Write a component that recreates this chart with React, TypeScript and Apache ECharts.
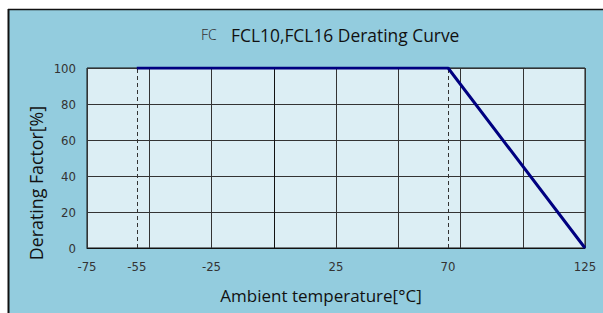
import React, { useEffect, useRef } from "react";
import * as echarts from "echarts";

const curveTemps = [-55, 70, 125];
const curveFactors = [100, 100, 0];
const xTickLabels = [-75, -55, -25, 25, 70, 125];
const dashedTemps = [-55, 70];
const xRange = [-75, 125];
const yRange = [0, 100];

export default function App() {
  const ref = useRef<HTMLDivElement>(null);
  useEffect(() => {
    if (!ref.current) return;
    const chart = echarts.init(ref.current, undefined, { renderer: "svg" });
    const labelFont = "'Liberation Sans Narrow', 'DejaVu Sans Condensed', 'Liberation Sans', sans-serif";
    const textFont = "'Open Sans', 'Noto Sans', sans-serif";
    chart.setOption({
      animation: false,
      backgroundColor: "#ffffff",
      graphic: [
        { type: "rect", z: -10, shape: { x: 8, y: 9, width: 600, height: 310 }, style: { fill: "#93CCDE" } },
        { type: "line", z: -9, shape: { x1: 8, y1: 9.5, x2: 603, y2: 9.5 }, style: { stroke: "#111", lineWidth: 1.5 } },
        { type: "line", z: -9, shape: { x1: 8.5, y1: 9, x2: 8.5, y2: 313 }, style: { stroke: "#111", lineWidth: 2 } },
        { type: "text", x: 201, y: 34, style: { text: "FC", fill: "#333", font: "300 14px 'Noto Sans', sans-serif", verticalAlign: "middle" } },
        { type: "text", x: 231, y: 35, style: { text: "FCL10,FCL16 Derating Curve", fill: "#111", font: `17.4px ${textFont}`, verticalAlign: "middle" } },
        { type: "text", x: 321, y: 295, style: { text: "Ambient temperature[°C]", fill: "#111", font: `17px ${textFont}`, align: "center", verticalAlign: "middle" } },
        { type: "text", x: 36, y: 183, rotation: Math.PI / 2, style: { text: "Derating Factor[%]", fill: "#111", font: `17.8px ${textFont}`, align: "center", verticalAlign: "middle" } },
      ],
      grid: {
        left: 87, top: 68, width: 498, height: 180,
        show: true, backgroundColor: "#DCEEF4", borderColor: "#111", borderWidth: 1,
      },
      xAxis: {
        type: "value", min: xRange[0], max: xRange[1], interval: 25,
        axisLine: { show: true, lineStyle: { color: "#111" } },
        axisTick: { show: false },
        splitLine: { show: true, lineStyle: { color: "#333", width: 1 } },
        axisLabel: { customValues: xTickLabels, color: "#333", fontSize: 13, fontFamily: labelFont, margin: 12 },
      },
      yAxis: {
        type: "value", min: yRange[0], max: yRange[1], interval: 20,
        axisLine: { show: true, lineStyle: { color: "#111" } },
        axisTick: { show: false },
        splitLine: { show: true, lineStyle: { color: "#333", width: 1 } },
        axisLabel: { color: "#333", fontSize: 13, fontFamily: labelFont, margin: 11 },
      },
      series: [
        {
          type: "line",
          data: curveTemps.map((t, i) => [t, curveFactors[i]]),
          symbol: "none",
          lineStyle: { color: "#000080", width: 3 },
          z: 5,
          markLine: {
            silent: true, symbol: "none", label: { show: false },
            lineStyle: { color: "#333", type: [4, 3], width: 1 },
            data: dashedTemps.map((t) => ({ xAxis: t })),
          },
        },
      ],
    });
    return () => chart.dispose();
  }, []);
  return <div ref={ref} style={{ position: "fixed", left: 0, top: 0, width: 603, height: 313 }} />;
}
